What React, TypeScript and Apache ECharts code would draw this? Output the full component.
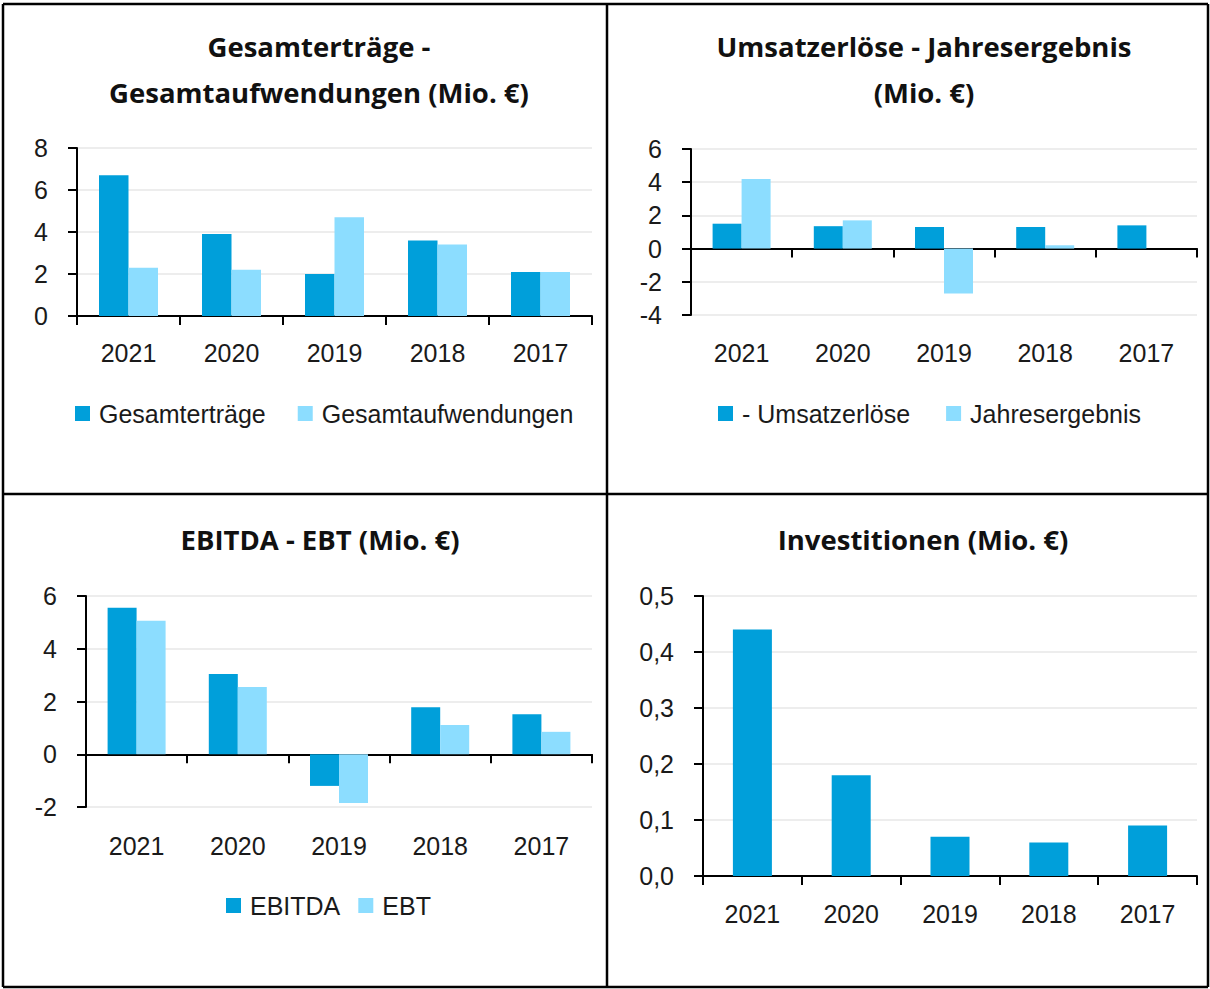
import React, { useEffect, useRef } from "react";
import * as echarts from "echarts";

const categories = ["2021", "2020", "2019", "2018", "2017"];
const gesamtertraege = [6.7, 3.9, 2.0, 3.6, 2.1];
const gesamtaufwendungen = [2.3, 2.2, 4.7, 3.4, 2.1];
const umsatzerloese = [1.5, 1.35, 1.3, 1.3, 1.4];
const jahresergebnis = [4.2, 1.7, -2.7, 0.2, 0];
const ebitda = [5.55, 3.04, -1.2, 1.78, 1.52];
const ebt = [5.06, 2.55, -1.85, 1.11, 0.85];
const investitionen = [0.44, 0.18, 0.07, 0.06, 0.09];

const titles = [
  "Gesamterträge -\nGesamtaufwendungen (Mio. €)",
  "Umsatzerlöse - Jahresergebnis\n(Mio. €)",
  "EBITDA - EBT (Mio. €)",
  "Investitionen (Mio. €)",
];

const DARK = "#009FDA";
const LIGHT = "#8CDDFF";
const FONT = "'Liberation Sans', Arial, sans-serif";
const TITLE_FONT = "'Open Sans', 'Noto Sans', sans-serif";
const TXT = "#1a1a1a";

export default function App() {
  const ref = useRef<HTMLDivElement>(null);
  useEffect(() => {
    if (!ref.current) return;
    const chart = echarts.init(ref.current, undefined, { renderer: "svg" });

    const axisLine = { show: true, onZero: false, lineStyle: { color: "#000", width: 2 } };
    const labelStyle = { fontSize: 25, color: TXT, fontFamily: FONT };

    const catAxisPlain = (gridIndex: number, margin: number) => ({
      type: "category",
      gridIndex,
      position: "bottom",
      data: categories,
      axisLine,
      axisTick: { show: true, length: 9, lineStyle: { color: "#000", width: 2 } },
      axisLabel: { ...labelStyle, margin },
    });
    const catAxisZero = (gridIndex: number) => ({
      type: "category",
      gridIndex,
      position: "bottom",
      data: categories,
      axisLine: { show: true, onZero: true, lineStyle: { color: "#000", width: 2 } },
      axisTick: { show: true, length: 9, lineStyle: { color: "#000", width: 2 } },
      axisLabel: { show: false },
    });
    const catAxisLabels = (gridIndex: number, margin: number) => ({
      type: "category",
      gridIndex,
      position: "bottom",
      data: categories,
      axisLine: { show: false, onZero: false },
      axisTick: { show: false },
      axisLabel: { ...labelStyle, margin },
    });
    const valAxis = (gridIndex: number, min: number, max: number, interval: number, fmt?: (v: number) => string) => ({
      type: "value",
      gridIndex,
      min,
      max,
      interval,
      axisLine: { show: true, lineStyle: { color: "#000", width: 2 } },
      axisTick: { show: true, length: 9, lineStyle: { color: "#000", width: 2 } },
      splitLine: { show: true, lineStyle: { color: "#EDEDED", width: 2 } },
      axisLabel: { ...labelStyle, margin: 29, formatter: fmt },
    });

    const bar = (name: string, data: number[], color: string, x: number, y: number, w: number) => ({
      type: "bar",
      name,
      data,
      xAxisIndex: x,
      yAxisIndex: y,
      barWidth: w,
      barGap: "0%",
      itemStyle: { color },
    });

    const legendBase = {
      icon: "rect",
      itemWidth: 15,
      itemHeight: 15,
      padding: 0,
      textStyle: { fontSize: 25, color: TXT, fontFamily: FONT, padding: [0, 0, 0, 4] },
    };

    const titleX = [319, 924, 320, 923];
    const titleY = [69, 69, 539, 539];

    const border = (x1: number, y1: number, x2: number, y2: number) => ({
      type: "line",
      shape: { x1, y1, x2, y2 },
      style: { stroke: "#000", lineWidth: 2.5 },
      silent: true,
    });

    chart.setOption({
      animation: false,
      backgroundColor: "#fff",
      grid: [
        { left: 77, top: 148, width: 515, height: 168 },
        { left: 691, top: 149, width: 506, height: 166 },
        { left: 86, top: 596, width: 506, height: 211 },
        { left: 703, top: 596, width: 494, height: 280 },
      ],
      xAxis: [
        catAxisPlain(0, 24),
        catAxisZero(1),
        catAxisLabels(1, 25),
        catAxisZero(2),
        catAxisLabels(2, 26),
        catAxisPlain(3, 25),
      ],
      yAxis: [
        valAxis(0, 0, 8, 2),
        valAxis(1, -4, 6, 2),
        valAxis(2, -2, 6, 2),
        valAxis(3, 0, 0.5, 0.1, (v: number) => v.toFixed(1).replace(".", ",")),
      ],
      legend: [
        { ...legendBase, data: ["Gesamterträge", "Gesamtaufwendungen"], left: 75, top: 401, itemGap: 32 },
        { ...legendBase, data: ["- Umsatzerlöse", "Jahresergebnis"], left: 718, top: 401, itemGap: 36 },
        { ...legendBase, data: ["EBITDA", "EBT"], left: 226, top: 893, itemGap: 18 },
      ],
      series: [
        bar("Gesamterträge", gesamtertraege, DARK, 0, 0, 29.5),
        bar("Gesamtaufwendungen", gesamtaufwendungen, LIGHT, 0, 0, 29.5),
        bar("- Umsatzerlöse", umsatzerloese, DARK, 1, 1, 29),
        bar("Jahresergebnis", jahresergebnis, LIGHT, 1, 1, 29),
        bar("EBITDA", ebitda, DARK, 3, 2, 29),
        bar("EBT", ebt, LIGHT, 3, 2, 29),
        bar("Investitionen", investitionen, DARK, 5, 3, 39),
      ],
      graphic: [
        ...titles.map((t, i) => ({
          type: "text",
          x: titleX[i],
          y: titleY[i],
          silent: true,
          style: {
            text: t,
            textAlign: "center",
            textVerticalAlign: "middle",
            fontSize: 27.5,
            fontWeight: "bold",
            fontFamily: TITLE_FONT,
            lineHeight: 46,
            fill: "#111",
          },
        })),
        border(3, 4, 1208, 4),
        border(3, 4, 3, 987),
        border(3, 987, 1208, 987),
        border(1208, 4, 1208, 987),
        border(607, 4, 607, 987),
        border(3, 494, 1208, 494),
      ],
    });
    return () => chart.dispose();
  }, []);
  return (
    <div
      ref={ref}
      style={{ position: "absolute", left: 0, top: 0, width: 1210, height: 989 }}
    />
  );
}
